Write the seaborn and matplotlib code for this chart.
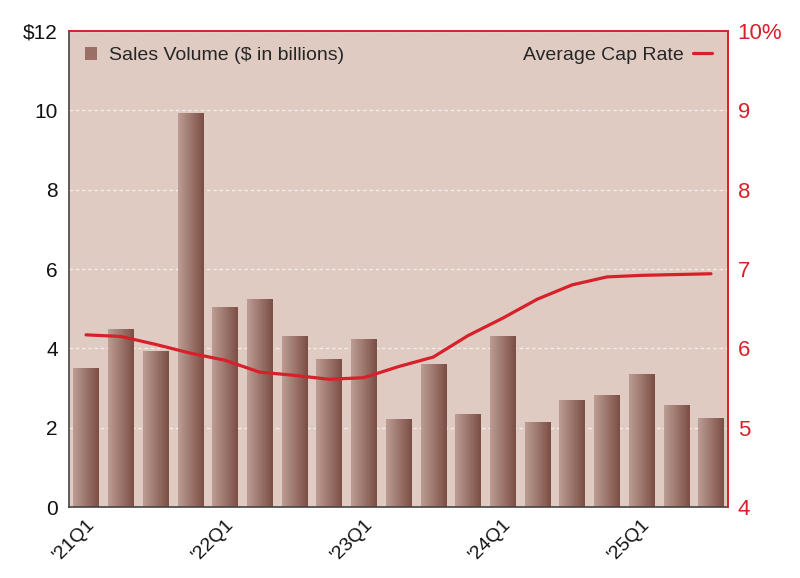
import numpy as np
import pandas as pd
import matplotlib
matplotlib.use('Agg')
import matplotlib.pyplot as plt
from matplotlib.colors import LinearSegmentedColormap
from matplotlib.lines import Line2D
from matplotlib.patches import Patch
import seaborn as sns

quarters = ["'21Q1", "'21Q2", "'21Q3", "'21Q4",
            "'22Q1", "'22Q2", "'22Q3", "'22Q4",
            "'23Q1", "'23Q2", "'23Q3", "'23Q4",
            "'24Q1", "'24Q2", "'24Q3", "'24Q4",
            "'25Q1", "'25Q2", "'25Q3"]
sales_volume = [3.48, 4.48, 3.93, 9.91, 5.03, 5.24, 4.31, 3.71, 4.23, 2.20,
                3.60, 2.32, 4.31, 2.13, 2.68, 2.82, 3.34, 2.57, 2.22]
cap_rate = [6.17, 6.15, 6.05, 5.94, 5.85, 5.70, 5.66, 5.61, 5.63, 5.77,
            5.89, 6.16, 6.38, 6.62, 6.80, 6.90, 6.92, 6.93, 6.94]
shown_labels = ["'21Q1", "'22Q1", "'23Q1", "'24Q1", "'25Q1"]

df = pd.DataFrame({'Quarter': quarters, 'Sales': sales_volume, 'Cap': cap_rate})

sns.set_style('white')
plt.rcParams['font.family'] = ['Liberation Sans', 'DejaVu Sans']

bg = '#dfcbc2'
red = '#d8202a'
cmap = LinearSegmentedColormap.from_list('bar', ['#bc9d93', '#7c4e45'])

fig = plt.figure(figsize=(8, 5.78), dpi=100)
ax = fig.add_axes([0.0863, 0.1228, 0.8237, 0.8236])
ax.set_facecolor(bg)

sns.barplot(data=df, x='Quarter', y='Sales', ax=ax, width=0.73,
            color='#9a7066', saturation=1, zorder=2)

# gradient fill for each bar
grad = np.linspace(0, 1, 64).reshape(1, -1)
for p in ax.patches:
    x0, y0 = p.get_x(), p.get_y()
    w, h = p.get_width(), p.get_height()
    p.set_facecolor('none')
    p.set_edgecolor('none')
    ax.imshow(grad, cmap=cmap, aspect='auto', extent=(x0, x0 + w, y0, y0 + h),
              zorder=2, interpolation='bilinear')

ax.set_xlim(-0.49, len(quarters) - 0.51)
ax.set_ylim(0, 12)
ax.set_yticks([0, 2, 4, 6, 8, 10, 12])
ax.set_yticklabels(['0', '2', '4', '6', '8', '10', '$12'])
ax.yaxis.grid(True, color='#f4ece8', linestyle=(0, (2.5, 2)), linewidth=1)
ax.set_axisbelow(True)
ax.tick_params(axis='y', labelsize=15, length=0, pad=8, colors='#111111')

pos = [quarters.index(q) for q in shown_labels]
ax.set_xticks(pos)
ax.set_xticklabels(shown_labels, rotation=45, ha='right', rotation_mode='anchor')
ax.tick_params(axis='x', labelsize=14, length=0, pad=6, colors='#111111')
ax.set_xlabel('')
ax.set_ylabel('')

for side in ['left', 'bottom']:
    ax.spines[side].set_color('#444444')
    ax.spines[side].set_linewidth(1.2)
ax.spines['top'].set_color(red)
ax.spines['right'].set_color(red)
ax.spines['top'].set_linewidth(1.2)
ax.spines['right'].set_linewidth(1.2)

ax2 = ax.twinx()
sns.lineplot(data=df, x='Quarter', y='Cap', ax=ax2, color=red, linewidth=2.3,
             sort=False, zorder=3)
ax2.set_ylim(4, 10)
ax2.set_yticks([4, 5, 6, 7, 8, 9, 10])
ax2.set_yticklabels(['4', '5', '6', '7', '8', '9', '10%'])
ax2.tick_params(axis='y', labelsize=16, length=0, pad=7, colors=red)
ax2.set_ylabel('')
ax2.set_xlabel('')
for side in ['left', 'bottom']:
    ax2.spines[side].set_visible(False)
ax2.spines['top'].set_color(red)
ax2.spines['right'].set_color(red)
ax2.spines['top'].set_linewidth(1.2)
ax2.spines['right'].set_linewidth(1.2)

leg1 = ax2.legend(handles=[Patch(facecolor='#9a7066', edgecolor='none')],
                  labels=['Sales Volume ($ in billions)'], loc='upper left',
                  frameon=False, fontsize=14, handlelength=0.65, handleheight=0.65,
                  handletextpad=0.6, borderaxespad=0.4, bbox_to_anchor=(0.0, 1.0))
ax2.add_artist(leg1)
ax2.legend(handles=[Line2D([0], [0], color=red, linewidth=2.3)],
           labels=['Average Cap Rate'], loc='upper right', frameon=False,
           fontsize=14, handlelength=1.0, handletextpad=0.5, markerfirst=False,
           borderaxespad=0.4)

plt.savefig('out.png', dpi=100)
